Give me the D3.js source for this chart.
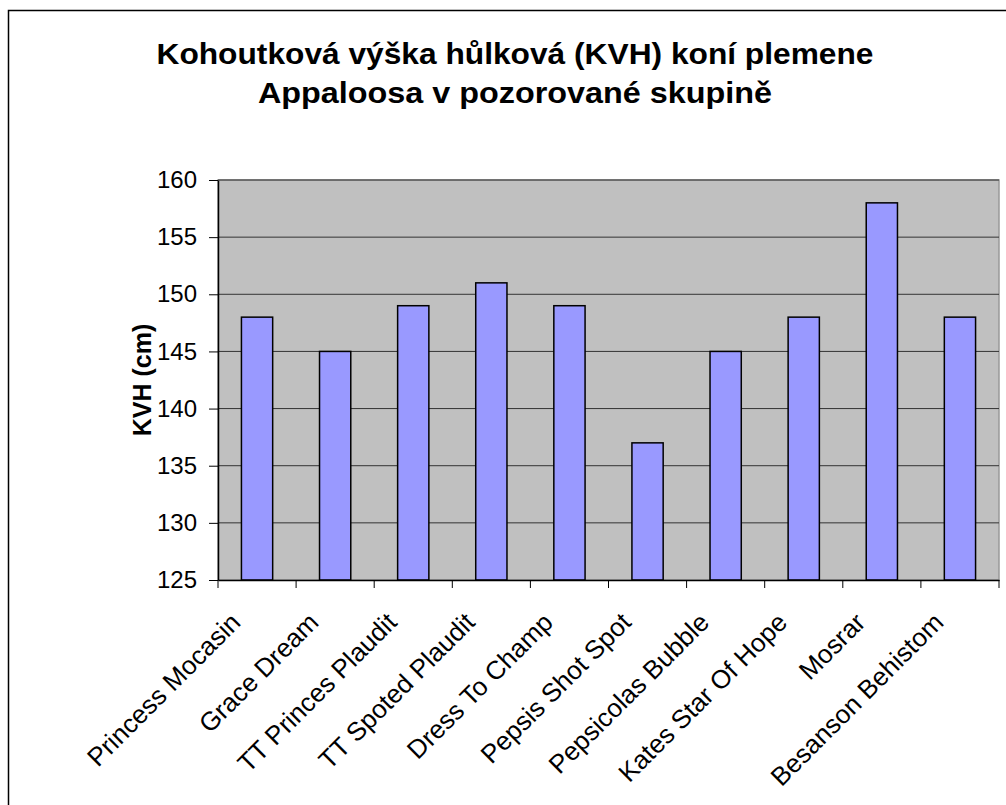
<!DOCTYPE html>
<html>
<head>
<meta charset="utf-8">
<script src="https://cdn.jsdelivr.net/npm/d3@7"></script>
<style>
  body { margin: 0; background: #fff; }
  svg { display: block; font-family: Arial, "Liberation Sans", sans-serif; }
</style>
</head>
<body>
<svg id="chart" width="1006" height="805"></svg>
<script>
// data
const horses = ["Princess Mocasin", "Grace Dream", "TT Princes Plaudit", "TT Spoted Plaudit",
  "Dress To Champ", "Pepsis Shot Spot", "Pepsicolas Bubble", "Kates Star Of Hope",
  "Mosrar", "Besanson Behistom"];
const kvh = [148, 145, 149, 151, 149, 137, 145, 148, 158, 148];
const yTicks = [125, 130, 135, 140, 145, 150, 155, 160];
const titleLines = ["Kohoutková výška hůlková (KVH) koní plemene", "Appaloosa v pozorované skupině"];
const yLabel = "KVH (cm)";

const svg = d3.select("#chart");
const plotL = 218, plotR = 999, plotT = 180, plotB = 580;

// outer chart frame (cut off on right and bottom)
svg.append("rect")
  .attr("x", 8.5).attr("y", 10.5)
  .attr("width", 1010).attr("height", 810)
  .attr("fill", "#fff").attr("stroke", "#000").attr("stroke-width", 1.5);

const titleWidths = [717, 514];
svg.selectAll("text.title")
  .data(titleLines)
  .join("text")
  .attr("class", "title")
  .attr("x", (d, i) => 515 - titleWidths[i] / 2)
  .attr("y", (d, i) => 64 + i * 39)
  .attr("textLength", (d, i) => titleWidths[i])
  .attr("lengthAdjust", "spacingAndGlyphs")
  .attr("font-size", 30)
  .attr("font-weight", "bold")
  .text(d => d);

const x = d3.scaleBand().domain(horses).range([plotL, plotR]).paddingInner(0).paddingOuter(0);
const y = d3.scaleLinear().domain([125, 160]).range([plotB, plotT]);

// plot area
svg.append("rect")
  .attr("x", plotL).attr("y", plotT)
  .attr("width", plotR - plotL).attr("height", plotB - plotT)
  .attr("fill", "#c0c0c0").attr("stroke", "#999").attr("stroke-width", 1.5);

// gridlines
svg.selectAll("line.grid")
  .data(yTicks.slice(1))
  .join("line")
  .attr("class", "grid")
  .attr("x1", plotL).attr("x2", plotR)
  .attr("y1", d => y(d)).attr("y2", d => y(d))
  .attr("stroke", "#333").attr("stroke-width", 1);

// bars
const barW = x.bandwidth() / 2.5;
svg.selectAll("rect.bar")
  .data(kvh)
  .join("rect")
  .attr("class", "bar")
  .attr("x", (d, i) => x(horses[i]) + (x.bandwidth() - barW) / 2)
  .attr("y", d => y(d))
  .attr("width", barW)
  .attr("height", d => y(125) - y(d))
  .attr("fill", "#9999ff")
  .attr("stroke", "#000").attr("stroke-width", 1.5);

// y axis
const yAxis = svg.append("g")
  .attr("transform", `translate(${plotL},0)`)
  .call(d3.axisLeft(y).tickValues(yTicks).tickSize(9).tickPadding(12).tickSizeOuter(0));
yAxis.select(".domain").attr("stroke", "#000").attr("stroke-width", 1.5);
yAxis.selectAll(".tick line").attr("stroke", "#000");
yAxis.selectAll(".tick text").attr("font-size", 24).attr("fill", "#000")
  .attr("font-family", "Arial, 'Liberation Sans', sans-serif");

// x axis
const xAxis = svg.append("g")
  .attr("transform", `translate(0,${plotB})`)
  .call(d3.axisBottom(x).tickSize(0).tickSizeOuter(0).tickFormat(""));
xAxis.select(".domain").attr("stroke", "#000").attr("stroke-width", 1.5);
svg.selectAll("line.xtick")
  .data(horses.concat([null]))
  .join("line")
  .attr("class", "xtick")
  .attr("x1", (d, i) => plotL + i * x.step()).attr("x2", (d, i) => plotL + i * x.step())
  .attr("y1", plotB).attr("y2", plotB + 8)
  .attr("stroke", "#000");

svg.selectAll("text.xlab")
  .data(horses)
  .join("text")
  .attr("class", "xlab")
  .attr("text-anchor", "end")
  .attr("font-size", 26)
  .attr("transform", d => `translate(${x(d) + x.bandwidth() / 2 - 15},${plotB + 44}) rotate(-45)`)
  .text(d => d);

svg.append("text")
  .attr("transform", `translate(151,${(plotT + plotB) / 2}) rotate(-90)`)
  .attr("text-anchor", "middle")
  .attr("font-size", 25)
  .attr("font-weight", "bold")
  .text(yLabel);
</script>
</body>
</html>
